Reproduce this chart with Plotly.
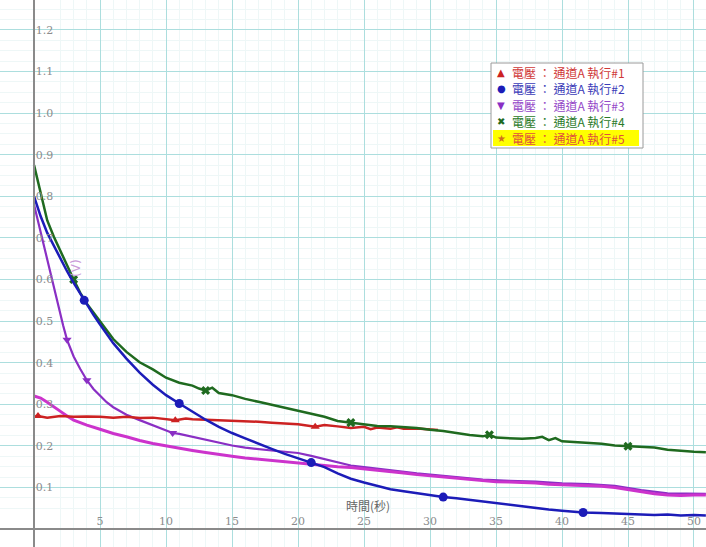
import plotly.graph_objects as go

# ---- data: voltage on channel A for five runs, time in seconds ----
run1_t = [0, 0.3, 1, 2, 3, 4, 5, 6, 7, 8, 9, 10, 10.7, 11.5, 12, 13, 14, 15, 16, 17,
          18, 19, 20, 21.3, 22, 23, 24, 25, 25.5, 26, 27, 27.5, 28, 29, 30, 30.6]
run1_v = [0.270, 0.272, 0.268, 0.272, 0.270, 0.271, 0.270, 0.268, 0.270, 0.267,
          0.268, 0.265, 0.262, 0.266, 0.264, 0.263, 0.262, 0.260, 0.259, 0.258,
          0.256, 0.254, 0.252, 0.246, 0.250, 0.247, 0.243, 0.246, 0.240, 0.244,
          0.241, 0.245, 0.241, 0.242, 0.239, 0.238]
run1_marks = [0.3, 10.7, 21.3]

run2_t = [0, 0.5, 1.0, 1.5, 2.0, 2.5, 3.0, 3.5, 3.8, 4.5, 5, 6, 7, 8, 9, 10, 11, 12, 13, 14,
          15, 16, 17, 18, 19, 20, 21, 22, 23, 24, 25, 26, 27, 28, 29, 30, 31, 32, 33, 34,
          35, 36, 37, 38, 39, 40, 41.6, 43, 44, 45, 46, 47, 48, 49, 50, 50.9]
run2_v = [0.800, 0.752, 0.712, 0.680, 0.650, 0.620, 0.592, 0.566, 0.550, 0.515,
          0.492, 0.447, 0.410, 0.376, 0.347, 0.322, 0.302, 0.282, 0.263, 0.246,
          0.231, 0.218, 0.205, 0.193, 0.181, 0.170, 0.160, 0.149, 0.134, 0.121,
          0.112, 0.104, 0.096, 0.091, 0.086, 0.081, 0.077, 0.074, 0.070, 0.066,
          0.062, 0.058, 0.054, 0.050, 0.047, 0.044, 0.040, 0.039, 0.038, 0.036,
          0.036, 0.034, 0.035, 0.033, 0.034, 0.033]
run2_marks = [3.8, 11, 21, 31, 41.6]

run3_t = [0, 0.3, 0.7, 1.0, 1.4, 1.8, 2.2, 2.5, 3.0, 3.5, 4.0, 4.5, 5, 5.5, 6, 7, 8, 9, 10, 10.5,
          11, 12, 13, 14, 15, 16, 17, 18, 19, 20, 21, 22, 23, 24, 25, 26, 27, 28, 29, 30,
          32, 34, 36, 38, 40, 42, 44, 46, 48, 50, 50.9]
run3_v = [0.780, 0.740, 0.690, 0.645, 0.590, 0.540, 0.490, 0.455, 0.415, 0.385,
          0.358, 0.337, 0.320, 0.305, 0.293, 0.275, 0.262, 0.250, 0.238, 0.231,
          0.229, 0.222, 0.214, 0.207, 0.201, 0.196, 0.192, 0.189, 0.186, 0.183,
          0.176, 0.168, 0.160, 0.153, 0.149, 0.145, 0.141, 0.138, 0.134, 0.131,
          0.125, 0.119, 0.116, 0.114, 0.110, 0.108, 0.104, 0.094, 0.086, 0.085,
          0.085]
run3_marks = [2.5, 4.0, 10.5]

run4_t = [0, 0.3, 0.6, 1.0, 1.5, 2.0, 2.5, 3.0, 3.5, 4.0, 4.5, 5.0, 5.5, 6.0, 7, 8, 9, 10, 11, 12,
          12.5, 13, 13.5, 14, 15, 16, 17, 18, 19, 20, 21, 22, 23, 24, 25, 26, 27, 28, 29, 30,
          31, 32, 33, 34, 34.5, 35, 36, 37, 38, 38.5, 39, 39.5, 40, 41, 42, 43, 44, 45, 46, 47,
          48, 49, 50, 50.9]
run4_v = [0.875, 0.835, 0.790, 0.742, 0.703, 0.668, 0.632, 0.600, 0.568, 0.542,
          0.521, 0.500, 0.478, 0.457, 0.426, 0.401, 0.384, 0.364, 0.352, 0.345,
          0.338, 0.333, 0.340, 0.327, 0.322, 0.313, 0.306, 0.299, 0.292, 0.285,
          0.278, 0.270, 0.260, 0.256, 0.251, 0.248, 0.247, 0.245, 0.243, 0.239,
          0.236, 0.231, 0.226, 0.223, 0.227, 0.220, 0.219, 0.217, 0.219, 0.222,
          0.214, 0.219, 0.211, 0.209, 0.207, 0.205, 0.201, 0.199, 0.198, 0.196,
          0.191, 0.188, 0.186, 0.185]
run4_marks = [3.0, 13, 24, 34.5, 45]

run5_t = [0, 0.5, 1, 1.5, 2, 2.5, 3, 3.5, 4, 5, 6, 7, 8, 9, 10, 11, 12, 13, 14, 15,
          16, 17, 18, 19, 20, 21, 22, 23, 24, 25, 26, 27, 28, 29, 30, 31, 32, 33, 34, 35,
          36, 37, 38, 39, 40, 41, 42, 43, 44, 45, 46, 47, 48, 49, 50, 50.9]
run5_v = [0.320, 0.315, 0.305, 0.295, 0.283, 0.272, 0.262, 0.256, 0.250, 0.240,
          0.230, 0.222, 0.213, 0.206, 0.200, 0.195, 0.189, 0.184, 0.179, 0.175,
          0.171, 0.168, 0.165, 0.161, 0.158, 0.156, 0.153, 0.150, 0.148, 0.145,
          0.142, 0.138, 0.135, 0.131, 0.128, 0.125, 0.122, 0.119, 0.116, 0.114,
          0.113, 0.112, 0.111, 0.108, 0.107, 0.106, 0.105, 0.103, 0.100, 0.095,
          0.090, 0.085, 0.082, 0.081, 0.082, 0.082]

legend_labels = ["電壓 ： 通道A 執行#1", "電壓 ： 通道A 執行#2", "電壓 ： 通道A 執行#3",
                 "電壓 ： 通道A 執行#4", "電壓 ： 通道A 執行#5"]
x_ticks = [5, 10, 15, 20, 25, 30, 35, 40, 45, 50]
y_ticks = [0.1, 0.2, 0.3, 0.4, 0.5, 0.6, 0.7, 0.8, 0.9, 1.0, 1.1, 1.2]
x_title = "時間(秒)"
y_title = "(V)"

# ---- styling ----
X_RANGE = [-2.58, 50.91]
Y_RANGE = [-0.043, 1.272]
C_RED = "#cc2222"
C_BLUE = "#1c1cb8"
C_PURPLE = "#8a2fc4"
C_GREEN = "#1f6a1f"
C_MAGENTA = "#cc33cc"

fig = go.Figure()


def add_run(t, v, color, width, marks=None, symbol=None, msize=8):
    fig.add_trace(go.Scatter(x=t, y=v, mode="lines", showlegend=False,
                             line=dict(color=color, width=width), hoverinfo="skip"))
    if marks:
        my = [v[t.index(m)] for m in marks]
        fig.add_trace(go.Scatter(x=marks, y=my, mode="markers", showlegend=False,
                                 marker=dict(symbol=symbol, size=msize, color=color,
                                             line=dict(width=0)),
                                 hoverinfo="skip"))


add_run(run3_t, run3_v, C_PURPLE, 2.2, run3_marks, "triangle-down", 8)
add_run(run5_t, run5_v, C_MAGENTA, 3.0)
add_run(run1_t, run1_v, C_RED, 2.5, run1_marks, "triangle-up", 8)
add_run(run4_t, run4_v, C_GREEN, 2.5, run4_marks, "x", 8)
add_run(run2_t, run2_v, C_BLUE, 2.5, run2_marks, "circle", 9)

# axis crossing positions in paper fractions
x0_frac = (0 - X_RANGE[0]) / (X_RANGE[1] - X_RANGE[0])
y0_frac = (0 - Y_RANGE[0]) / (Y_RANGE[1] - Y_RANGE[0])

tick_font = dict(family="DejaVu Serif, serif", size=11, color="#8c8c8c")

fig.update_xaxes(range=X_RANGE, tickmode="array", tickvals=x_ticks,
                 ticktext=[str(v) for v in x_ticks],
                 showgrid=True, gridcolor="#acdede", gridwidth=1,
                 minor=dict(dtick=1, tick0=0, showgrid=True, gridcolor="#eef7f7", gridwidth=1),
                 zeroline=False,
                 showline=True, linecolor="#8a8a8a", linewidth=2,
                 ticks="", anchor="free", position=y0_frac,
                 ticklabelposition="inside", tickfont=tick_font, fixedrange=True)
fig.update_yaxes(range=Y_RANGE, tickmode="array", tickvals=y_ticks,
                 ticktext=["%.1f" % v for v in y_ticks],
                 showgrid=True, gridcolor="#acdede", gridwidth=1,
                 minor=dict(dtick=0.025, tick0=0, showgrid=True, gridcolor="#eef7f7", gridwidth=1),
                 zeroline=False,
                 showline=True, linecolor="#8a8a8a", linewidth=2,
                 ticks="", anchor="free", position=x0_frac,
                 ticklabelposition="inside", tickfont=tick_font, fixedrange=True)

# ---- legend box drawn in paper coordinates ----
W, H = 706, 547
def px(x):
    return x / W
def py(y):
    return 1 - y / H

box = dict(x0=px(491), x1=px(643), y0=py(148), y1=py(63))
shapes = [
    dict(type="rect", xref="paper", yref="paper", layer="above",
         fillcolor="white", line=dict(color="#9a9a9a", width=1), **box),
    dict(type="rect", xref="paper", yref="paper", layer="above",
         x0=px(493), x1=px(639), y0=py(146), y1=py(130),
         fillcolor="#ffff00", line=dict(width=0)),
]

legend_rows_y = [72, 88.5, 105, 121.5, 138]
legend_syms = ["▲", "●", "▼", "✖", "★"]
legend_sym_colors = [C_RED, C_BLUE, C_PURPLE, C_GREEN, "#d0701c"]
legend_txt_colors = ["#d03838", "#3b3bb8", "#9548c8", "#2a7a2a", "#e0503c"]

annotations = []
for yrow, s, sc, lab, tc in zip(legend_rows_y, legend_syms, legend_sym_colors,
                                legend_labels, legend_txt_colors):
    annotations.append(dict(xref="paper", yref="paper", x=px(501), y=py(yrow),
                            text=s, showarrow=False, xanchor="center", yanchor="middle",
                            borderpad=0,
                            font=dict(size=10, color=sc, family="DejaVu Sans")))
    annotations.append(dict(xref="paper", yref="paper", x=px(511), y=py(yrow),
                            text=lab, showarrow=False, xanchor="left", yanchor="middle",
                            borderpad=0,
                            font=dict(size=12, color=tc, family="Noto Sans CJK TC")))

# axis titles
annotations.append(dict(xref="x", yref="paper", x=25.3, y=py(505), text=x_title,
                        showarrow=False, xanchor="center", yanchor="middle",
                        font=dict(size=12, color="#666666", family="Noto Sans CJK TC")))
annotations.append(dict(xref="paper", yref="paper", x=px(76), y=py(268), text=y_title,
                        showarrow=False, textangle=-90, xanchor="center", yanchor="middle",
                        font=dict(size=12, color="#c99ad8", family="DejaVu Sans")))

fig.update_layout(width=W, height=H, margin=dict(l=0, r=0, t=0, b=0, pad=0),
                  paper_bgcolor="white", plot_bgcolor="white",
                  showlegend=False, shapes=shapes, annotations=annotations)

fig.write_html("out.html")
